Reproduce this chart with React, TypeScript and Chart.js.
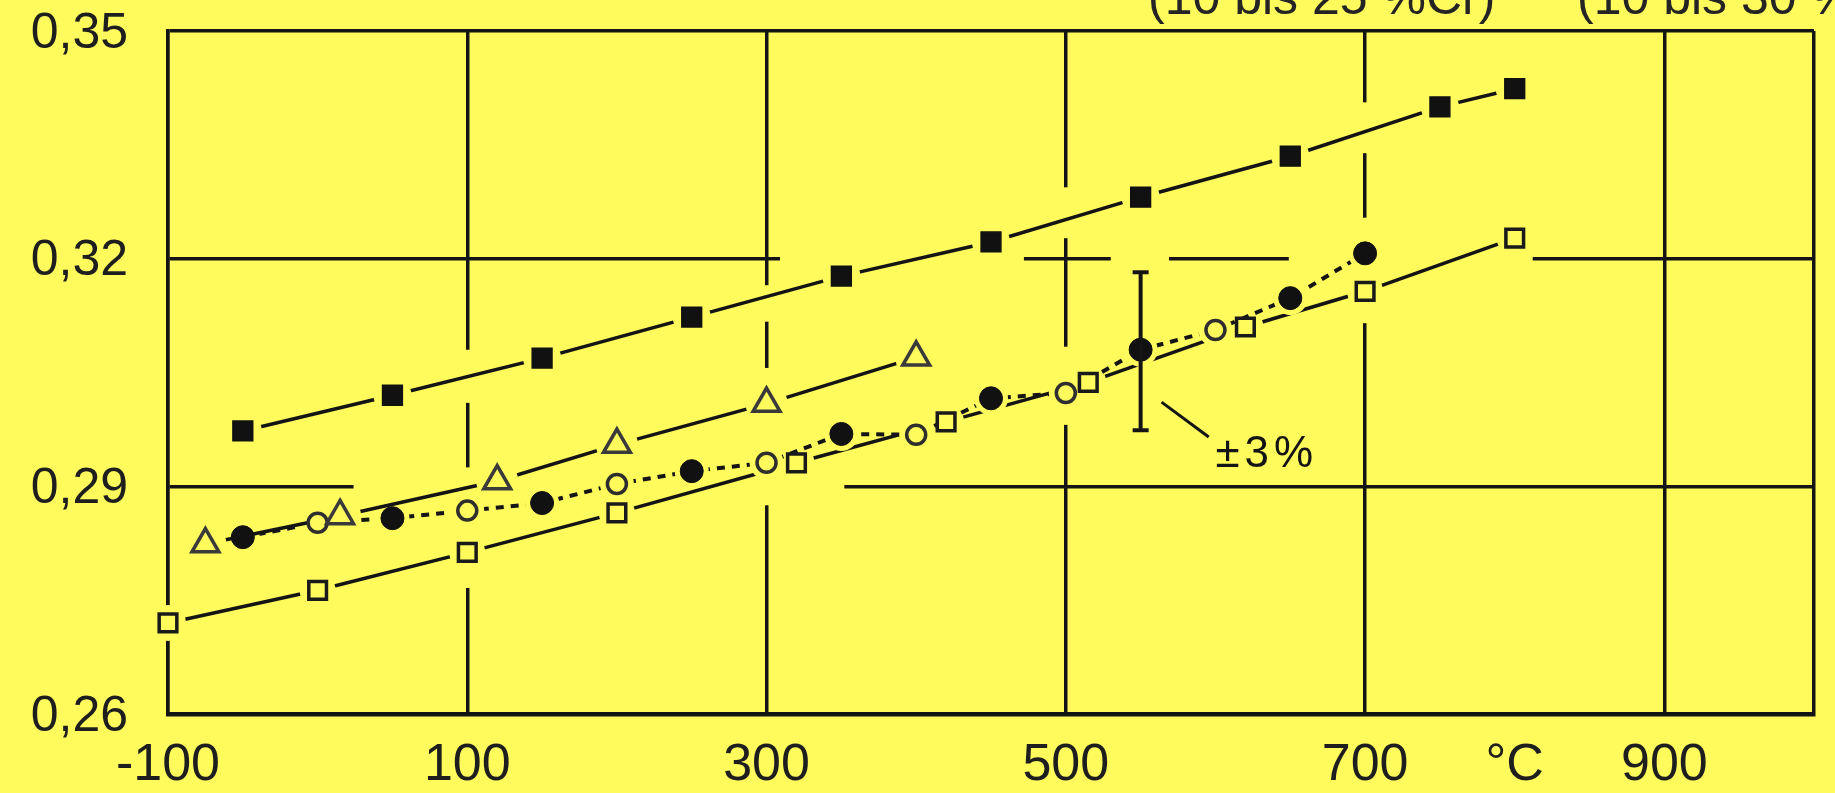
import React, { useEffect, useRef } from 'react';
import { Chart, registerables } from 'chart.js';

Chart.register(...registerables);

// ---- data (temperature in °C, value) ----
const filledSquareT = [-50, 50, 150, 250, 350, 450, 550, 650, 750, 800];
const filledSquareV = [0.2973, 0.302, 0.3069, 0.3123, 0.3177, 0.3222, 0.3281, 0.3335, 0.34, 0.3424];

const triangleT = [-75, 15, 120, 200, 300, 400];
const triangleV = [0.2824, 0.2861, 0.2907, 0.2955, 0.3009, 0.307];

const filledCircleT = [-50, 50, 150, 250, 350, 450, 550, 650, 700];
const filledCircleV = [0.2833, 0.2858, 0.2878, 0.292, 0.2969, 0.3016, 0.308, 0.3148, 0.3207];

const openCircleT = [0, 100, 200, 300, 400, 500, 600];
const openCircleV = [0.2852, 0.2868, 0.2903, 0.2931, 0.2968, 0.3023, 0.3106];

const openSquareT = [-100, 0, 100, 200, 320, 420, 515, 620, 700, 800];
const openSquareV = [0.272, 0.2763, 0.2813, 0.2865, 0.2931, 0.2985, 0.3037, 0.311, 0.3157, 0.3227];

const errorBarT = [550];
const errorBarLow = [0.2974];
const errorBarHigh = [0.3182];

const xTickValues = [-100, 100, 300, 500, 700, 800, 900, 1000];
const xTickLabels = ['-100', '100', '300', '500', '700', '°C', '900', ''];
const yTickValues = [0.26, 0.29, 0.32, 0.35];
const yTickLabels = ['0,26', '0,29', '0,32', '0,35'];

const headerLabels = ['(10 bis 25 %Cr)', '(10 bis 30 %Cr)'];
const toleranceLabel = '±3%';

// interrupted grid lines: [value, from, to] in data units
const hGridGaps: number[][] = [
  [0.32, 309, 472],
  [0.32, 530, 569],
  [0.32, 649, 812],
  [0.29, 24, 352],
];
const vGridGaps: number[][] = [
  [100, 0.2766, 0.2925],
  [100, 0.301, 0.308],
  [300, 0.2875, 0.3056],
  [300, 0.3117, 0.3165],
  [500, 0.2981, 0.3084],
  [500, 0.3227, 0.3294],
  [700, 0.3115, 0.3254],
  [700, 0.3339, 0.3406],
];

const BG = 'rgb(255, 251, 92)';
const INK = '#141414';
const FONT = "'Liberation Sans', Arial, sans-serif";

const pts = (t: number[], v: number[]) => t.map((x, i) => ({ x, y: v[i] }));

const circleCurve = [...pts(filledCircleT, filledCircleV), ...pts(openCircleT, openCircleV)].sort(
  (a, b) => a.x - b.x
);

const bgPlugin = {
  id: 'bgFill',
  beforeDraw(chart: any) {
    const c = chart.ctx;
    c.save();
    c.fillStyle = BG;
    c.fillRect(0, 0, chart.width, chart.height);
    c.restore();
  },
};

const gapPlugin = {
  id: 'gridGaps',
  beforeDatasetsDraw(chart: any) {
    const { ctx, scales } = chart;
    const x = scales.x;
    const y = scales.y;
    ctx.save();
    ctx.fillStyle = BG;
    hGridGaps.forEach(([v, a, b]) => {
      const py = y.getPixelForValue(v);
      const pa = x.getPixelForValue(a);
      const pb = x.getPixelForValue(b);
      ctx.fillRect(pa, py - 5, pb - pa, 10);
    });
    vGridGaps.forEach(([t, lo, hi]) => {
      const px = x.getPixelForValue(t);
      const p1 = y.getPixelForValue(hi);
      const p2 = y.getPixelForValue(lo);
      ctx.fillRect(px - 5, p1, 10, p2 - p1);
    });
    ctx.restore();
  },
};

const annotationPlugin = {
  id: 'annotations',
  afterDatasetsDraw(chart: any) {
    const { ctx, scales } = chart;
    const x = scales.x;
    const y = scales.y;
    ctx.save();
    ctx.strokeStyle = INK;
    ctx.fillStyle = INK;
    errorBarT.forEach((t, i) => {
      const px = x.getPixelForValue(t);
      const top = y.getPixelForValue(errorBarHigh[i]);
      const bot = y.getPixelForValue(errorBarLow[i]);
      ctx.lineWidth = 4;
      ctx.beginPath();
      ctx.moveTo(px, top);
      ctx.lineTo(px, bot);
      ctx.moveTo(px - 8, top);
      ctx.lineTo(px + 8, top);
      ctx.moveTo(px - 8, bot);
      ctx.lineTo(px + 8, bot);
      ctx.stroke();
    });
    // leader line to tolerance label
    ctx.lineWidth = 3;
    ctx.beginPath();
    ctx.moveTo(x.getPixelForValue(564), y.getPixelForValue(0.3011));
    ctx.lineTo(x.getPixelForValue(595.5), y.getPixelForValue(0.2965));
    ctx.stroke();
    ctx.font = `44px ${FONT}`;
    (ctx as any).letterSpacing = '5px';
    ctx.textAlign = 'left';
    ctx.textBaseline = 'alphabetic';
    ctx.fillText(toleranceLabel, x.getPixelForValue(600), y.getPixelForValue(0.29255));
    ctx.restore();
  },
};

const headerPlugin = {
  id: 'header',
  afterDraw(chart: any) {
    const ctx = chart.ctx;
    ctx.save();
    ctx.fillStyle = '#242424';
    ctx.font = `50px ${FONT}`;
    ctx.textAlign = 'left';
    ctx.textBaseline = 'alphabetic';
    ctx.fillText(headerLabels[0], 1148, 14);
    ctx.fillText(headerLabels[1], 1577, 14);
    ctx.restore();
  },
};

const lineSet = (data: any[], halo: number, dash: number[] = [], width = 3.5) => ({
  data,
  showLine: true,
  borderColor: INK,
  borderWidth: width,
  borderDash: dash,
  pointStyle: 'circle',
  pointRadius: halo,
  pointBackgroundColor: BG,
  pointBorderWidth: 0,
  pointBorderColor: BG,
  order: 1,
  clip: false,
});

const markerSet = (data: any[], style: string, radius: number, fill: string, stroke: string, bw: number) => ({
  data,
  showLine: false,
  pointStyle: style,
  pointRadius: radius,
  pointBackgroundColor: fill,
  pointBorderColor: stroke,
  pointBorderWidth: bw,
  order: 0,
  clip: false,
});

export default function App() {
  const ref = useRef<HTMLCanvasElement | null>(null);

  useEffect(() => {
    document.body.style.margin = '0';
    document.body.style.background = BG;
    const canvas = ref.current;
    if (!canvas) return;

    const chart = new Chart(canvas, {
      type: 'scatter',
      data: {
        datasets: [
          lineSet(pts(filledSquareT, filledSquareV), 19) as any,
          lineSet(pts(triangleT, triangleV), 21) as any,
          lineSet(circleCurve, 17, [8, 7], 4) as any,
          lineSet(pts(openSquareT, openSquareV), 18) as any,
          markerSet(pts(filledSquareT, filledSquareV), 'rect', 14, '#111', '#111', 1.5) as any,
          markerSet(pts(triangleT, triangleV), 'triangle', 15.5, BG, '#3a3a3a', 3.5) as any,
          markerSet(pts(filledCircleT, filledCircleV), 'circle', 11.5, '#111', '#111', 1) as any,
          markerSet(pts(openCircleT, openCircleV), 'circle', 9.5, BG, '#2e2e2e', 3.5) as any,
          markerSet(pts(openSquareT, openSquareV), 'rect', 12.5, BG, '#1a1a1a', 3.5) as any,
        ],
      },
      options: {
        animation: false,
        responsive: false,
        devicePixelRatio: 1,
        layout: { padding: { top: 31, right: 13, left: 0, bottom: 0 } },
        plugins: {
          legend: { display: false },
          tooltip: { enabled: false },
        },
        scales: {
          x: {
            type: 'linear',
            min: -100,
            max: 1000,
            afterBuildTicks: (scale: any) => {
              scale.ticks = xTickValues.map((value) => ({ value }));
            },
            afterFit: (scale: any) => {
              scale.height = 79;
              scale.paddingLeft = 0;
              scale.paddingRight = 0;
            },
            ticks: {
              autoSkip: false,
              maxRotation: 0,
              padding: 20,
              color: '#1e1e1e',
              font: { family: FONT, size: 52 },
              callback: (_v: any, i: number) => xTickLabels[i],
            },
            grid: {
              drawTicks: false,
              lineWidth: 3.5,
              color: (c: any) => (c.tick && c.tick.value === 800 ? 'rgba(0,0,0,0)' : INK),
            },
            border: { display: true, color: INK, width: 4.5 },
          },
          y: {
            type: 'linear',
            min: 0.26,
            max: 0.35,
            afterBuildTicks: (scale: any) => {
              scale.ticks = yTickValues.map((value) => ({ value }));
            },
            afterFit: (scale: any) => {
              scale.width = 168;
              scale.paddingTop = 0;
              scale.paddingBottom = 0;
            },
            ticks: {
              autoSkip: false,
              padding: 40,
              labelOffset: 3,
              color: '#1e1e1e',
              font: { family: FONT, size: 50 },
              callback: (_v: any, i: number) => yTickLabels[i],
            },
            grid: {
              drawTicks: false,
              lineWidth: 3.5,
              color: INK,
            },
            border: { display: true, color: INK, width: 3.5 },
          },
        },
      } as any,
      plugins: [bgPlugin, gapPlugin, annotationPlugin, headerPlugin],
    });

    return () => chart.destroy();
  }, []);

  return (
    <div style={{ width: 1835, height: 793, background: BG }}>
      <canvas ref={ref} width={1835} height={793} style={{ display: 'block' }} />
    </div>
  );
}
